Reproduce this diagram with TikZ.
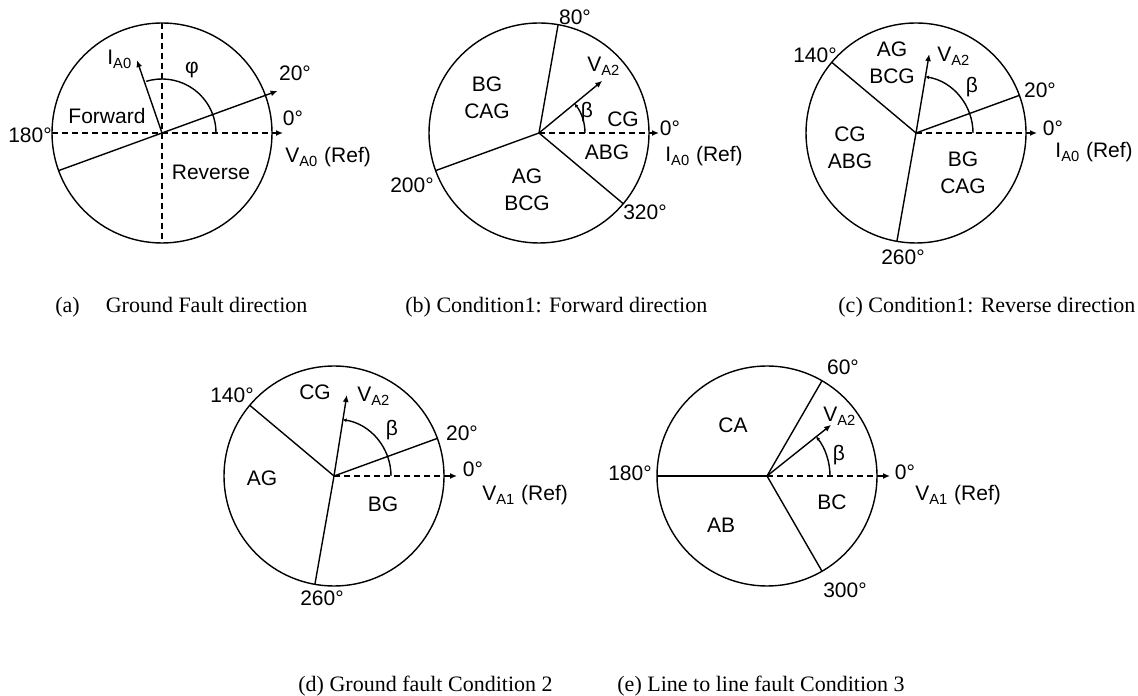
\documentclass[tikz,border=0pt]{standalone}
\usepackage{fontspec}
\setmainfont{Liberation Sans}
\newfontfamily\capfont{Liberation Serif}
\usetikzlibrary{arrows.meta}

\begin{document}
\begin{tikzpicture}[x=0.5pt, y=0.5pt,
  circ/.style={line width=0.7pt},
  seg/.style={line width=0.7pt},
  refline/.style={line width=0.7pt, dash pattern=on 3pt off 2pt, -{Latex[length=3.5pt,width=3pt]}},
  vec/.style={line width=0.7pt, -{Latex[length=3.5pt,width=3pt]}},
  angarc/.style={line width=0.7pt, -{Latex[length=1.8pt,width=2pt]}},
  lbl/.style={inner sep=0pt, font=\fontsize{10.5}{13.5}\selectfont},
  reflbl/.style={lbl, anchor=base west},
  captxt/.style={inner sep=0pt, anchor=base west, font=\capfont\fontsize{11}{13}\selectfont}]

  \useasboundingbox (0,0) rectangle (1138,695);

  % centres of the five circles
  \coordinate (Oa) at (162,562);
  \coordinate (Ob) at (539,562);
  \coordinate (Oc) at (916,562);
  \coordinate (Od) at (334,219);
  \coordinate (Oe) at (767,219);

  % (a) ground fault direction
  \draw[circ] (Oa) circle[radius=110];
  \draw[line width=0.7pt, dash pattern=on 3pt off 2pt] ([shift={(90:110)}]Oa) -- ([shift={(270:110)}]Oa);
  \draw[refline] ([shift={(180:110)}]Oa) -- ([shift={(0:121)}]Oa);
  \draw[vec] ([shift={(200:110)}]Oa) -- ([shift={(20:123)}]Oa);
  \draw[vec] (Oa) -- ([shift={(109:77)}]Oa);
  \draw[line width=0.7pt] ([shift={(0:54)}]Oa) arc[start angle=0, end angle=107, radius=54];
  \node[reflbl] (ia0) at (107,630) {I\textsubscript{A0}};
  \node[lbl] (phi) at (192,625) {φ};
  \node[lbl] (a20) at (295,622) {20°};
  \node[lbl] (a0) at (293,577) {0°};
  \node[reflbl] (vref) at (285,532) {V\textsubscript{A0} (Ref)};
  \node[lbl] (a180) at (30,560) {180°};
  \node[lbl] (fwd) at (107,579) {Forward};
  \node[lbl] (rev) at (211,523) {Reverse};

  % (b) condition 1, forward
  \draw[circ] (Ob) circle[radius=110];
  \draw[seg] (Ob) -- ([shift={(80:110)}]Ob);
  \draw[seg] (Ob) -- ([shift={(200:110)}]Ob);
  \draw[seg] (Ob) -- ([shift={(320:110)}]Ob);
  \draw[refline] (Ob) -- ([shift={(0:120)}]Ob);
  \draw[vec] (Ob) -- ([shift={(39.5:82)}]Ob);
  \draw[angarc] ([shift={(0:46)}]Ob) arc[start angle=0, end angle=39.5, radius=46];
  \node[lbl] (b80) at (575,678) {80°};
  \node[reflbl] (bva2) at (587,623) {V\textsubscript{A2}};
  \node[lbl] (bbeta) at (587,583) {β};
  \node[lbl] (bcg) at (623,576) {CG};
  \node[lbl] (b0) at (670,567) {0°};
  \node[reflbl] (bref) at (665,533) {I\textsubscript{A0} (Ref)};
  \node[lbl] (babg) at (607,543) {ABG};
  \node[lbl, align=center] (bbg) at (487,597) {BG\\CAG};
  \node[lbl, align=center] (bag) at (527,505) {AG\\BCG};
  \node[lbl] (b200) at (412,510) {200°};
  \node[lbl] (b320) at (645,483) {320°};

  % (c) condition 1, reverse
  \draw[circ] (Oc) circle[radius=110];
  \draw[seg] (Oc) -- ([shift={(140:110)}]Oc);
  \draw[seg] (Oc) -- ([shift={(20:110)}]Oc);
  \draw[seg] (Oc) -- ([shift={(260:110)}]Oc);
  \draw[refline] (Oc) -- ([shift={(0:121)}]Oc);
  \draw[vec] (Oc) -- ([shift={(80.5:80)}]Oc);
  \draw[angarc] ([shift={(0:57)}]Oc) arc[start angle=0, end angle=80.5, radius=57];
  \node[lbl] (c140) at (815,640) {140°};
  \node[lbl, align=center] (cag) at (892,632) {AG\\BCG};
  \node[reflbl] (cva2) at (937,633) {V\textsubscript{A2}};
  \node[lbl] (cbeta) at (972,608) {β};
  \node[lbl] (c20) at (1040,605) {20°};
  \node[lbl] (c0) at (1053,567) {0°};
  \node[reflbl] (cref) at (1055,537) {I\textsubscript{A0} (Ref)};
  \node[lbl, align=center] (ccg) at (850,547) {CG\\ABG};
  \node[lbl, align=center] (cbg) at (963,522) {BG\\CAG};
  \node[lbl] (c260) at (903,438) {260°};

  % (d) ground fault, condition 2
  \draw[circ] (Od) circle[radius=110];
  \draw[seg] (Od) -- ([shift={(140:110)}]Od);
  \draw[seg] (Od) -- ([shift={(20:110)}]Od);
  \draw[seg] (Od) -- ([shift={(260:110)}]Od);
  \draw[refline] (Od) -- ([shift={(0:123)}]Od);
  \draw[vec] (Od) -- ([shift={(81:82)}]Od);
  \draw[angarc] ([shift={(0:57)}]Od) arc[start angle=0, end angle=81, radius=57];
  \node[lbl] (d140) at (232,300) {140°};
  \node[lbl] (dcg) at (315,303) {CG};
  \node[reflbl] (dva2) at (357,293) {V\textsubscript{A2}};
  \node[lbl] (dbeta) at (392,265) {β};
  \node[lbl] (d20) at (462,262) {20°};
  \node[lbl] (d0) at (473,226) {0°};
  \node[reflbl] (dref) at (482,194) {V\textsubscript{A1} (Ref)};
  \node[lbl] (dag) at (262,217) {AG};
  \node[lbl] (dbg) at (383,191) {BG};
  \node[lbl] (d260) at (322,97) {260°};

  % (e) line to line fault, condition 3
  \draw[circ] (Oe) circle[radius=110];
  \draw[seg] (Oe) -- ([shift={(60:110)}]Oe);
  \draw[seg] (Oe) -- ([shift={(180:110)}]Oe);
  \draw[seg] (Oe) -- ([shift={(300:110)}]Oe);
  \draw[refline] (Oe) -- ([shift={(0:123)}]Oe);
  \draw[vec] (Oe) -- ([shift={(38.6:82)}]Oe);
  \draw[angarc] ([shift={(0:63)}]Oe) arc[start angle=0, end angle=38.6, radius=63];
  \node[lbl] (e60) at (843,328) {60°};
  \node[lbl] (eca) at (733,270) {CA};
  \node[reflbl] (eva2) at (823,273) {V\textsubscript{A2}};
  \node[lbl] (ebeta) at (839,240) {β};
  \node[lbl] (e180) at (630,222) {180°};
  \node[lbl] (e0) at (905,223) {0°};
  \node[reflbl] (eref) at (915,194) {V\textsubscript{A1} (Ref)};
  \node[lbl] (ebc) at (832,193) {BC};
  \node[lbl] (eab) at (721,170) {AB};
  \node[lbl] (e300) at (845,105) {300°};

  % captions
  \node[captxt] (capa) at (55,382) {(a)\hspace{13pt}Ground Fault direction};
  \node[captxt] (capb) at (405,382) {(b) Condition1: Forward direction};
  \node[captxt] (capc) at (838,382) {(c) Condition1: Reverse direction};
  \node[captxt] (capd) at (298,4) {(d) Ground fault Condition 2};
  \node[captxt] (cape) at (617,4) {(e) Line to line fault Condition 3};
\end{tikzpicture}
\end{document}
